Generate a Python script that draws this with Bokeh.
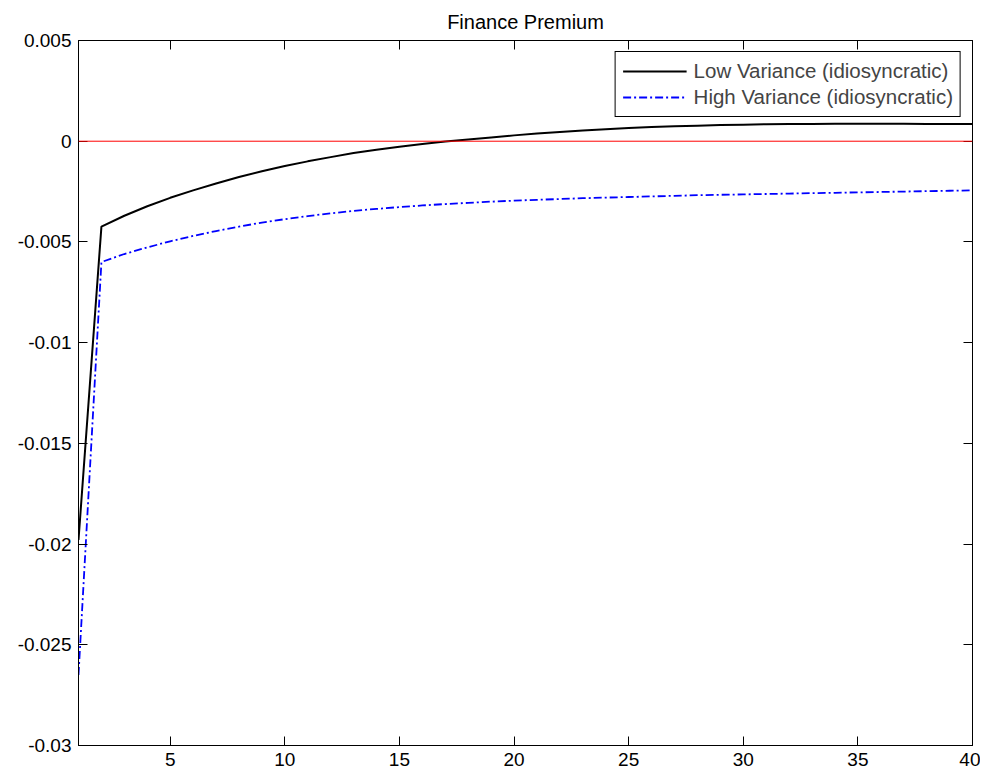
from bokeh.plotting import figure
from bokeh.models import (FixedTicker, LinearAxis, Range1d, Span, Legend, LegendItem)
from bokeh.embed import file_html
from bokeh.resources import INLINE

# ---- data ----
periods = list(range(1, 41))
low_variance = [-0.0198, -0.00424, -0.00370, -0.00323, -0.00281, -0.00244, -0.00210,
                -0.00178, -0.00149, -0.00123, -0.00100, -0.00079, -0.00059, -0.00042,
                -0.00028, -0.00014, -0.00002, 0.00009, 0.00019, 0.00029, 0.00038,
                0.00046, 0.00053, 0.00059, 0.00065, 0.00070, 0.00074, 0.00077,
                0.00080, 0.00082, 0.00084, 0.00085, 0.00086, 0.00087, 0.00087,
                0.00087, 0.00087, 0.00086, 0.00086, 0.00085]
high_variance = [-0.0265, -0.00600, -0.00560, -0.00527, -0.00497, -0.00470, -0.00446,
                 -0.00424, -0.00404, -0.00387, -0.00372, -0.00358, -0.00346, -0.00336,
                 -0.00327, -0.00319, -0.00312, -0.00306, -0.00300, -0.00295, -0.00291,
                 -0.00287, -0.00283, -0.00280, -0.00277, -0.00274, -0.00271, -0.00268,
                 -0.00266, -0.00264, -0.00262, -0.00260, -0.00258, -0.00256, -0.00254,
                 -0.00252, -0.00250, -0.00248, -0.00246, -0.00244]
zero_level = 0.0
x_ticks = [5, 10, 15, 20, 25, 30, 35, 40]
y_ticks = [-0.03, -0.025, -0.02, -0.015, -0.01, -0.005, 0.0, 0.005]
y_tick_labels = ["-0.03", "-0.025", "-0.02", "-0.015", "-0.01", "-0.005", "0", "0.005"]
title_text = "Finance Premium"
series_names = ["Low Variance (idiosyncratic)", "High Variance (idiosyncratic)"]

FONT = "Liberation Sans"

p = figure(width=980, height=772, output_backend="svg", toolbar_location=None,
           x_range=Range1d(1, 40), y_range=Range1d(-0.03, 0.005),
           min_border_left=78, min_border_right=8, min_border_top=40, min_border_bottom=27)
p.title.text = title_text
p.title.align = "center"
p.title.text_font = FONT
p.title.text_font_size = "20px"
p.title.text_font_style = "normal"
p.title.text_color = "black"
p.title.offset = 0
p.title.standoff = 16

p.grid.visible = False
p.outline_line_color = "black"
p.outline_line_width = 1
p.background_fill_color = "white"
p.border_fill_color = "white"

def style_axis(ax, labels=True):
    ax.major_tick_in = 9
    ax.major_tick_out = 0
    ax.minor_tick_line_color = None
    ax.axis_line_color = "black"
    ax.major_tick_line_color = "black"
    ax.major_label_text_font = FONT
    if labels:
        ax.major_label_text_font_size = "19px"
        ax.major_label_text_color = "black"
        ax.major_label_standoff = 7
    else:
        ax.major_label_text_font_size = "1px"
        ax.major_label_text_color = None
        ax.major_label_standoff = 0

p.xaxis.ticker = FixedTicker(ticks=x_ticks)
p.yaxis.ticker = FixedTicker(ticks=y_ticks)
p.yaxis.major_label_overrides = {t: l for t, l in zip(y_ticks, y_tick_labels)}
style_axis(p.xaxis[0])
style_axis(p.yaxis[0])

top_axis = LinearAxis(ticker=FixedTicker(ticks=x_ticks))
style_axis(top_axis, labels=False)
p.add_layout(top_axis, "above")
right_axis = LinearAxis(ticker=FixedTicker(ticks=y_ticks))
style_axis(right_axis, labels=False)
p.add_layout(right_axis, "right")

p.add_layout(Span(location=zero_level, dimension="width", line_color="red", line_width=1))

r_low = p.line(periods, low_variance, line_color="black", line_width=2)
r_high = p.line(periods, high_variance, line_color="blue", line_width=1.8, line_dash="8 3 2 3")

legend = Legend(items=[LegendItem(label=series_names[0], renderers=[r_low]),
                       LegendItem(label=series_names[1], renderers=[r_high])],
                location="top_right")
legend.label_text_font = FONT
legend.label_text_font_size = "20.5px"
legend.border_line_color = "black"
legend.border_line_width = 1
legend.border_line_alpha = 1
legend.background_fill_alpha = 1
legend.glyph_width = 64
legend.glyph_height = 22
legend.label_height = 22
legend.label_standoff = 7
legend.padding = 7
legend.spacing = 2
legend.margin = 11
p.add_layout(legend)

open("out.html", "w").write(file_html(p, INLINE))
